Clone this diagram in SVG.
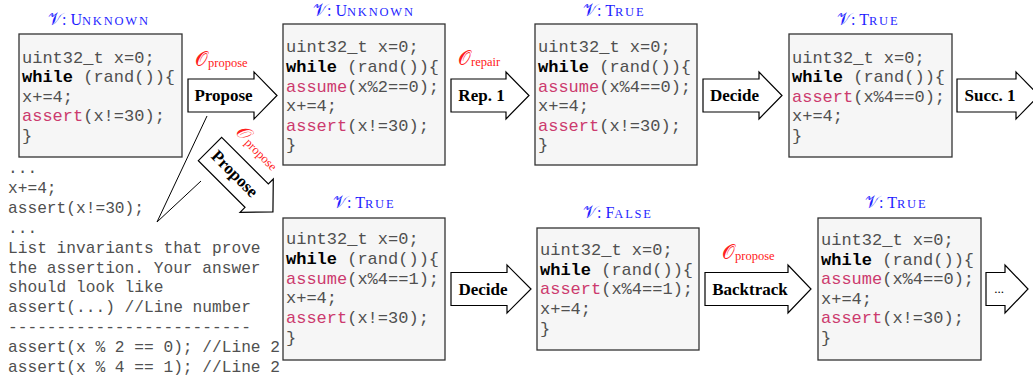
<svg xmlns="http://www.w3.org/2000/svg" width="1033" height="383" viewBox="0 0 1033 383">
<style>
.box{fill:#f6f6f6;stroke:#333;stroke-width:1.3}
.code{font-family:"Liberation Mono",monospace;font-size:17px;fill:#505050}
.kw{font-weight:bold;fill:#000}
.as{fill:#cc3a6e}
.arr{fill:#fff;stroke:#000;stroke-width:1.2}
.albl{font-family:"Liberation Serif",serif;font-weight:bold;font-size:17px;fill:#000}
.ver{font-family:"Liberation Serif",serif;font-size:16px;fill:#1f1fff}
.cv{font-size:17px}
.sc{font-size:12.5px;letter-spacing:1.8px}
.orc{font-family:"Liberation Serif",serif;font-size:20px;fill:#ff2020}
.sub{font-size:12.5px}
.prm{font-family:"Liberation Mono",monospace;font-size:16.2px;fill:#505050}
.cl{stroke:#000;stroke-width:1;fill:none}
</style>
<rect width="1033" height="383" fill="#fff"/>

<g id="prompt">
<text class="prm" x="8" y="173">...</text>
<text class="prm" x="8" y="193">x+=4;</text>
<text class="prm" x="8" y="213">assert(x!=30);</text>
<text class="prm" x="8" y="233">...</text>
<text class="prm" x="8" y="253">List invariants that prove</text>
<text class="prm" x="8" y="272.5">the assertion. Your answer</text>
<text class="prm" x="8" y="292">should look like</text>
<text class="prm" x="8" y="312">assert(...) //Line number</text>
<text class="prm" x="8" y="332">-------------------------</text>
<text class="prm" x="8" y="352">assert(x % 2 == 0); //Line 2</text>
<text class="prm" x="8" y="372">assert(x % 4 == 1); //Line 2</text>
</g>

<g id="n1">
<text class="ver" x="48" y="25"><tspan class="cv">𝒱</tspan>: U<tspan class="sc">NKNOWN</tspan></text>
<rect class="box" x="19" y="34" width="163" height="123"/>
<text class="code" x="22" y="62.5">uint32_t x=0;</text>
<text class="code" x="22" y="82"><tspan class="kw">while</tspan> (rand()){</text>
<text class="code" x="22" y="101.7">x+=4;</text>
<text class="code" x="22" y="121.3"><tspan class="as">assert</tspan>(x!=30);</text>
<text class="code" x="22" y="141">}</text>
</g>

<g id="n2">
<text class="ver" x="313" y="16"><tspan class="cv">𝒱</tspan>: U<tspan class="sc">NKNOWN</tspan></text>
<rect class="box" x="283" y="24" width="162" height="141"/>
<text class="code" x="286" y="52.3">uint32_t x=0;</text>
<text class="code" x="286" y="71.9"><tspan class="kw">while</tspan> (rand()){</text>
<text class="code" x="286" y="91.5"><tspan class="as">assume</tspan>(x%2==0);</text>
<text class="code" x="286" y="111.1">x+=4;</text>
<text class="code" x="286" y="130.7"><tspan class="as">assert</tspan>(x!=30);</text>
<text class="code" x="286" y="150.3">}</text>
</g>

<g id="n3">
<text class="ver" x="583" y="16"><tspan class="cv">𝒱</tspan>: T<tspan class="sc">RUE</tspan></text>
<rect class="box" x="535" y="24" width="162" height="141"/>
<text class="code" x="538" y="52.3">uint32_t x=0;</text>
<text class="code" x="538" y="71.9"><tspan class="kw">while</tspan> (rand()){</text>
<text class="code" x="538" y="91.5"><tspan class="as">assume</tspan>(x%4==0);</text>
<text class="code" x="538" y="111.1">x+=4;</text>
<text class="code" x="538" y="130.7"><tspan class="as">assert</tspan>(x!=30);</text>
<text class="code" x="538" y="150.3">}</text>
</g>

<g id="n4">
<text class="ver" x="837" y="25"><tspan class="cv">𝒱</tspan>: T<tspan class="sc">RUE</tspan></text>
<rect class="box" x="789" y="34" width="163" height="123"/>
<text class="code" x="792" y="62.5">uint32_t x=0;</text>
<text class="code" x="792" y="82"><tspan class="kw">while</tspan> (rand()){</text>
<text class="code" x="792" y="101.7"><tspan class="as">assert</tspan>(x%4==0);</text>
<text class="code" x="792" y="121.3">x+=4;</text>
<text class="code" x="792" y="141">}</text>
</g>

<g id="n5">
<text class="ver" x="333" y="208"><tspan class="cv">𝒱</tspan>: T<tspan class="sc">RUE</tspan></text>
<rect class="box" x="283" y="218" width="162" height="142"/>
<text class="code" x="286" y="244">uint32_t x=0;</text>
<text class="code" x="286" y="263.8"><tspan class="kw">while</tspan> (rand()){</text>
<text class="code" x="286" y="283.6"><tspan class="as">assume</tspan>(x%4==1);</text>
<text class="code" x="286" y="303.4">x+=4;</text>
<text class="code" x="286" y="323.2"><tspan class="as">assert</tspan>(x!=30);</text>
<text class="code" x="286" y="343">}</text>
</g>

<g id="n6">
<text class="ver" x="583" y="218"><tspan class="cv">𝒱</tspan>: F<tspan class="sc">ALSE</tspan></text>
<rect class="box" x="537" y="228" width="162" height="122"/>
<text class="code" x="540" y="255">uint32_t x=0;</text>
<text class="code" x="540" y="274.7"><tspan class="kw">while</tspan> (rand()){</text>
<text class="code" x="540" y="294.4"><tspan class="as">assert</tspan>(x%4==1);</text>
<text class="code" x="540" y="314">x+=4;</text>
<text class="code" x="540" y="333.7">}</text>
</g>

<g id="n7">
<text class="ver" x="865" y="208"><tspan class="cv">𝒱</tspan>: T<tspan class="sc">RUE</tspan></text>
<rect class="box" x="818" y="218" width="163" height="142"/>
<text class="code" x="821" y="245">uint32_t x=0;</text>
<text class="code" x="821" y="264.6"><tspan class="kw">while</tspan> (rand()){</text>
<text class="code" x="821" y="284.2"><tspan class="as">assume</tspan>(x%4==0);</text>
<text class="code" x="821" y="303.8">x+=4;</text>
<text class="code" x="821" y="323.4"><tspan class="as">assert</tspan>(x!=30);</text>
<text class="code" x="821" y="343">}</text>
</g>

<g id="connectors">
<path class="cl" d="M207,116 L157,222 L201,181"/>
<g id="a1">
<path class="arr" d="M188,79 H254 V72 L277,95.5 L254,119 V112 H188 Z"/>
<text class="albl" x="223.5" y="101" text-anchor="middle">Propose</text>
<text class="orc" x="195" y="66">𝒪<tspan class="sub" dy="1">propose</tspan></text>
</g>
<g id="a1d" transform="translate(210,149) rotate(45)">
<path class="arr" d="M0,-16.5 H66 V-23.5 L89,0 L66,23.5 V16.5 H0 Z"/>
<text class="albl" x="35" y="5.5" text-anchor="middle">Propose</text>
<text class="orc" x="7" y="-29">𝒪<tspan class="sub" dy="1">propose</tspan></text>
</g>
<g id="a2">
<path class="arr" d="M451,79 H506 V72 L529,95.5 L506,119 V112 H451 Z"/>
<text class="albl" x="481.5" y="101" text-anchor="middle">Rep. 1</text>
<text class="orc" x="458" y="65">𝒪<tspan class="sub" dy="1">repair</tspan></text>
</g>
<g id="a3">
<path class="arr" d="M703,79 H759 V72 L782,95.5 L759,119 V112 H703 Z"/>
<text class="albl" x="734.5" y="101" text-anchor="middle">Decide</text>
</g>
<g id="a4">
<path class="arr" d="M957,79 H1016 V72 L1039,95.5 L1016,119 V112 H957 Z"/>
<text class="albl" x="990" y="101" text-anchor="middle">Succ. 1</text>
</g>
<g id="a5">
<path class="arr" d="M451,272.5 H507 V265 L531,289 L507,313 V305.5 H451 Z"/>
<text class="albl" x="483" y="294.5" text-anchor="middle">Decide</text>
</g>
<g id="a6">
<path class="arr" d="M705,272.5 H788 V265 L811,289 L788,313 V305.5 H705 Z"/>
<text class="albl" x="750" y="294.5" text-anchor="middle">Backtrack</text>
<text class="orc" x="722" y="259">𝒪<tspan class="sub" dy="1">propose</tspan></text>
</g>
<g id="a7">
<path class="arr" d="M986,272.5 H1005 V265 L1028,289 L1005,313 V305.5 H986 Z"/>
<text x="999" y="293" text-anchor="middle" font-family="Liberation Serif,serif" font-size="13" fill="#000">...</text>
</g>
</g>
</svg>
